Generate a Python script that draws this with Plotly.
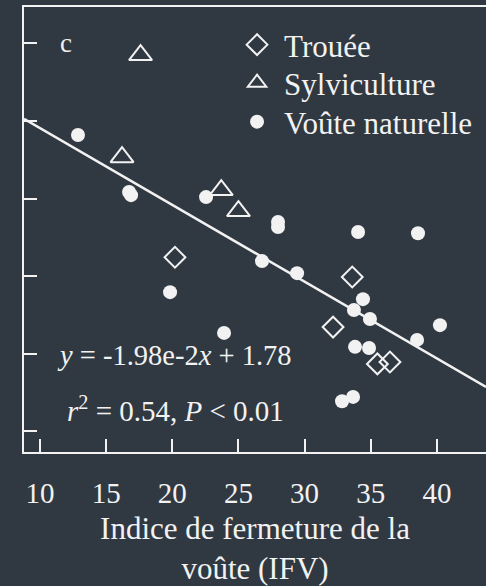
import plotly.graph_objects as go

# Data
trouee_x = [20.2, 33.6, 32.15, 35.5, 36.45]
trouee_y = [1.249, 1.198, 1.069, 0.974, 0.979]

sylv_x = [17.6, 16.2, 23.7, 25.0]
sylv_y = [1.770, 1.507, 1.422, 1.368]

voute_x = [12.87, 16.73, 16.88, 22.55, 27.99, 27.99, 26.78, 29.43, 19.83, 23.91,
           34.04, 38.57, 34.41, 33.73, 34.94, 40.23, 38.50, 33.81, 34.87, 32.83, 33.66]
voute_y = [1.564, 1.417, 1.409, 1.404, 1.340, 1.327, 1.239, 1.208, 1.159, 1.054,
           1.314, 1.311, 1.141, 1.113, 1.090, 1.074, 1.036, 1.018, 1.015, 0.878, 0.889]

slope = -1.98e-2
intercept = 1.78

x_range = [8.79, 43.71]
y_range = [0.747, 1.894]
x_ticks = [10, 15, 20, 25, 30, 35, 40]
y_ticks = [0.8, 1.0, 1.2, 1.4, 1.6, 1.8]

BG = "#303942"
FG = "#f2f2f2"
FONT = "'Liberation Serif', 'Times New Roman', Times, serif"

fig = go.Figure()

line_x = x_range
line_y = [slope * v + intercept for v in line_x]
fig.add_trace(go.Scatter(x=line_x, y=line_y, mode="lines",
                         line=dict(color=FG, width=2.5), showlegend=False,
                         hoverinfo="skip"))

fig.add_trace(go.Scatter(x=trouee_x, y=trouee_y, mode="markers", name="Trouée",
                         legend="legend",
                         marker=dict(symbol="diamond-open", size=16,
                                     color=FG, line=dict(color=FG, width=2))))
fig.add_trace(go.Scatter(x=sylv_x, y=sylv_y, mode="markers", name="Sylviculture",
                         legend="legend2",
                         marker=dict(symbol="triangle-up-open", size=20,
                                     color=FG, line=dict(color=FG, width=2))))
fig.add_trace(go.Scatter(x=voute_x, y=voute_y, mode="markers", name="Voûte naturelle",
                         legend="legend3",
                         marker=dict(symbol="circle", size=14, color=FG,
                                     line=dict(width=0))))

fig.add_annotation(x=0.09, y=0.918, xref="paper", yref="paper", text="c",
                   showarrow=False, font=dict(size=27, color=FG, family=FONT),
                   xanchor="center", yanchor="middle")
fig.add_annotation(x=0.068, y=0.217, xref="paper", yref="paper",
                   text="<i>y</i> = -1.98e-2<i>x</i> + 1.78",
                   showarrow=False, font=dict(size=28.5, color=FG, family=FONT),
                   xanchor="left", yanchor="middle")
fig.add_annotation(x=0.088, y=0.097, xref="paper", yref="paper",
                   text="<i>r</i><sup>2</sup> = 0.54, <i>P</i> &lt; 0.01",
                   showarrow=False, font=dict(size=29, color=FG, family=FONT),
                   xanchor="left", yanchor="middle")

def leg(ypos):
    return dict(x=0.446, y=ypos, xanchor="left", yanchor="middle",
                bgcolor="rgba(0,0,0,0)", font=dict(size=31, color=FG, family=FONT),
                itemsizing="trace", itemwidth=44)

fig.update_layout(
    width=486, height=586,
    margin=dict(l=24, r=0, t=7, b=134),
    paper_bgcolor=BG, plot_bgcolor=BG,
    font=dict(family=FONT, color=FG, size=28),
    showlegend=True,
    legend=leg(0.9146),
    legend2=leg(0.829),
    legend3=leg(0.7416),
    xaxis=dict(range=x_range, tickvals=x_ticks, ticks="inside", ticklen=13,
               tickwidth=2, tickcolor=FG, showline=True, linecolor=FG,
               linewidth=2, mirror=True, showgrid=False, zeroline=False,
               tickfont=dict(size=29, color=FG, family=FONT),
               ticklabelstandoff=14,
               title=dict(text="Indice de fermeture de la<br>voûte (IFV)",
                          font=dict(size=31, color=FG, family=FONT), standoff=16)),
    yaxis=dict(range=y_range, tickvals=y_ticks, ticks="inside", ticklen=13,
               tickwidth=2, tickcolor=FG, showline=True, linecolor=FG,
               linewidth=2, showticklabels=False, showgrid=False,
               zeroline=False),
)

fig.write_html("out.html", config={"displayModeBar": False},
               post_script="document.body.style.margin='0';"
                           "document.body.style.background='#303942';")
